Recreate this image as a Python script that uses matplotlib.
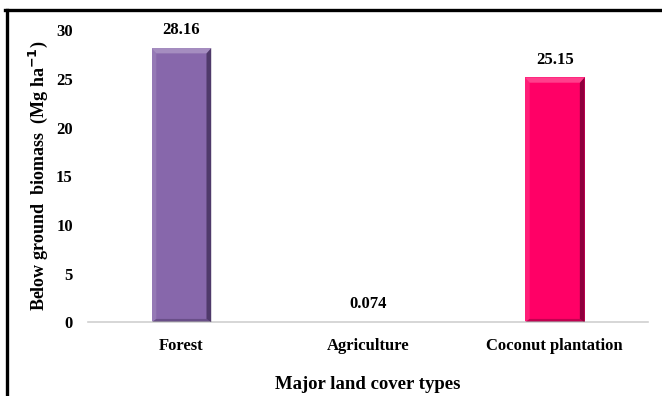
import matplotlib.pyplot as plt
from matplotlib.lines import Line2D
from matplotlib.patches import Polygon

# Below ground biomass by land cover
land_cover = ["Forest", "Agriculture", "Coconut plantation"]
biomass = [28.16, 0.074, 25.15]
value_labels = ["28.16", "0.074", "25.15"]
bar_colors = ["#8767ab", "#8767ab", "#ff0066"]
shade_colors = ["#3d2a55", "#3d2a55", "#6a0030"]

plt.rcParams["font.family"] = "Liberation Serif"
plt.rcParams["font.weight"] = "bold"

fig = plt.figure(figsize=(6.62, 3.96), dpi=100)
ax = fig.add_axes([0.133, 0.186, 0.846, 0.738])

x = list(range(len(land_cover)))
width = 0.32
bars = ax.bar(x, biomass, width=width, color=bar_colors, zorder=2)

# simple bevel: darker right edge, lighter top band
for b, shade in zip(bars, shade_colors):
    x0, w, h = b.get_x(), b.get_width(), b.get_height()
    if h < 0.5:
        continue
    e = w * 0.08
    ax.add_patch(Polygon([(x0 + w - e, 0.35), (x0 + w, 0), (x0 + w, h), (x0 + w - e, h - 0.55)],
                         closed=True, color=shade, alpha=0.75, lw=0, zorder=3))
    ax.add_patch(Polygon([(x0, h), (x0 + w, h), (x0 + w - e, h - 0.55), (x0 + e, h - 0.55)],
                         closed=True, color="white", alpha=0.25, lw=0, zorder=3))
    ax.add_patch(Polygon([(x0, 0), (x0 + e, 0.35), (x0 + e, h - 0.55), (x0, h)],
                         closed=True, color="white", alpha=0.12, lw=0, zorder=3))
    ax.add_patch(Polygon([(x0, 0), (x0 + w, 0), (x0 + w - e, 0.35), (x0 + e, 0.35)],
                         closed=True, color=shade, alpha=0.4, lw=0, zorder=3))

for xi, val, lab in zip(x, biomass, value_labels):
    ax.annotate(lab, (xi, val), xytext=(0, 7), textcoords="offset points",
                ha="center", va="bottom", fontsize=12, fontweight="bold")

ax.set_xlim(-0.5, 2.5)
ax.set_ylim(0, 30)
ax.set_yticks([0, 5, 10, 15, 20, 25, 30])
ax.set_xticks(x)
ax.set_xticklabels(land_cover)
ax.tick_params(axis="both", length=0, labelsize=12)
ax.tick_params(axis="y", pad=11)
ax.tick_params(axis="x", pad=11)

for side in ["top", "right", "left"]:
    ax.spines[side].set_visible(False)
ax.spines["bottom"].set_color("#d0d0d0")
ax.spines["bottom"].set_linewidth(1.2)

ax.set_ylabel("Below ground  biomass  (Mg ha$^{\\mathbf{-1}}$)", fontsize=13,
              fontweight="bold", labelpad=4)
ax.set_xlabel("Major land cover types", fontsize=13.5, fontweight="bold", labelpad=16)

# frame along the top and left of the figure
top = 1 - 10 / 396
fig.add_artist(Line2D([5 / 662, 1], [top, top], color="black", lw=2.4,
                      transform=fig.transFigure))
fig.add_artist(Line2D([6.5 / 662, 6.5 / 662], [0, top], color="black", lw=2.4,
                      transform=fig.transFigure))

fig.savefig("out.png", dpi=100)
